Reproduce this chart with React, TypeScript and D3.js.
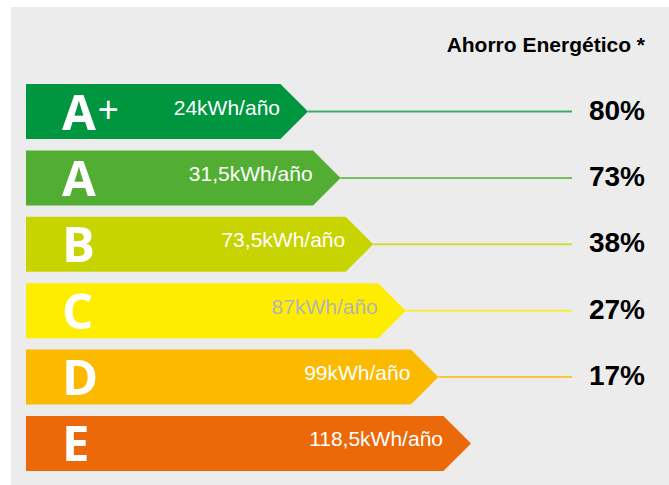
import React, { useEffect, useRef } from 'react';
import * as d3 from 'd3';

const grades = ['A+', 'A', 'B', 'C', 'D', 'E'];
const consumption = ['24kWh/año', '31,5kWh/año', '73,5kWh/año', '87kWh/año', '99kWh/año', '118,5kWh/año'];
const savings = [80, 73, 38, 27, 17, null];
const colors = ['#009640', '#52ae32', '#c8d400', '#ffed00', '#fbba00', '#eb6909'];
const labelColors = ['#ffffff', '#ffffff', '#ffffff', '#b4b4b4', '#ffffff', '#ffffff'];

const width = 669;
const height = 485;

const App = () => {
  const ref = useRef<SVGSVGElement>(null);

  useEffect(() => {
    const svg = d3.select(ref.current);
    svg.selectAll('*').remove();

    svg.append('rect')
      .attr('x', 11)
      .attr('y', 7)
      .attr('width', width - 11)
      .attr('height', height - 7)
      .attr('fill', '#ececec');

    svg.append('text')
      .text('Ahorro Energético *')
      .attr('x', 645)
      .attr('y', 52)
      .attr('text-anchor', 'end')
      .attr('font-family', 'Liberation Sans, Arial, sans-serif')
      .attr('font-weight', 'bold')
      .attr('font-size', 21)
      .attr('fill', '#000');

    const rows = grades.map((g, i) => ({ g, i }));

    // row bands
    const y = d3.scaleBand<number>()
      .domain(d3.range(grades.length))
      .range([84, 471])
      .paddingInner(0.17);

    // arrow tip per row
    const tip = d3.scaleLinear().domain([0, grades.length - 1]).range([308, 471]);

    const left = 26;
    const rowG = svg.selectAll('g.row').data(rows).enter().append('g').attr('class', 'row');

    rowG.append('path')
      .attr('d', d => {
        const t = y(d.i)!;
        const h = y.bandwidth();
        const tx = tip(d.i);
        const p = d3.path();
        p.moveTo(left, t);
        p.lineTo(tx - h / 2, t);
        p.lineTo(tx, t + h / 2);
        p.lineTo(tx - h / 2, t + h);
        p.lineTo(left, t + h);
        p.closePath();
        return p.toString();
      })
      .attr('fill', d => colors[d.i]);

    rowG.filter(d => savings[d.i] != null)
      .append('line')
      .attr('x1', d => tip(d.i))
      .attr('x2', 572)
      .attr('y1', d => y(d.i)! + y.bandwidth() / 2)
      .attr('y2', d => y(d.i)! + y.bandwidth() / 2)
      .attr('stroke', d => colors[d.i])
      .attr('stroke-opacity', 0.75)
      .attr('stroke-width', 2);

    rowG.filter(d => savings[d.i] != null)
      .append('text')
      .text(d => `${savings[d.i]}%`)
      .attr('x', 645)
      .attr('y', d => y(d.i)! + y.bandwidth() / 2 + 8)
      .attr('text-anchor', 'end')
      .attr('font-family', 'Liberation Sans, Arial, sans-serif')
      .attr('font-weight', 'bold')
      .attr('font-size', 28)
      .attr('fill', '#000');

    rowG.append('text')
      .text(d => consumption[d.i])
      .attr('x', d => tip(d.i) - 28)
      .attr('y', d => y(d.i)! + y.bandwidth() / 2 + 3)
      .attr('text-anchor', 'end')
      .attr('font-family', 'Liberation Sans, Arial, sans-serif')
      .attr('font-size', 21)
      .attr('fill', d => labelColors[d.i]);

    const letter = rowG.append('text')
      .attr('x', 62)
      .attr('y', d => y(d.i)! + y.bandwidth() / 2 + 18)
      .attr('font-family', 'Open Sans, sans-serif')
      .attr('font-weight', 700)
      .attr('font-size', 49)
      .attr('fill', '#fff');

    letter.append('tspan').text(d => d.g.replace('+', ''));
    letter.filter(d => d.g.includes('+'))
      .append('tspan')
      .text('+')
      .attr('font-family', 'Liberation Sans, Arial, sans-serif')
      .attr('font-weight', 400)
      .attr('font-size', 36)
      .attr('dx', 2)
      .attr('dy', -8);
  }, []);

  return (
    <svg
      ref={ref}
      width={width}
      height={height}
      style={{ position: 'absolute', left: 0, top: 0, display: 'block' }}
    />
  );
};

export default App;
